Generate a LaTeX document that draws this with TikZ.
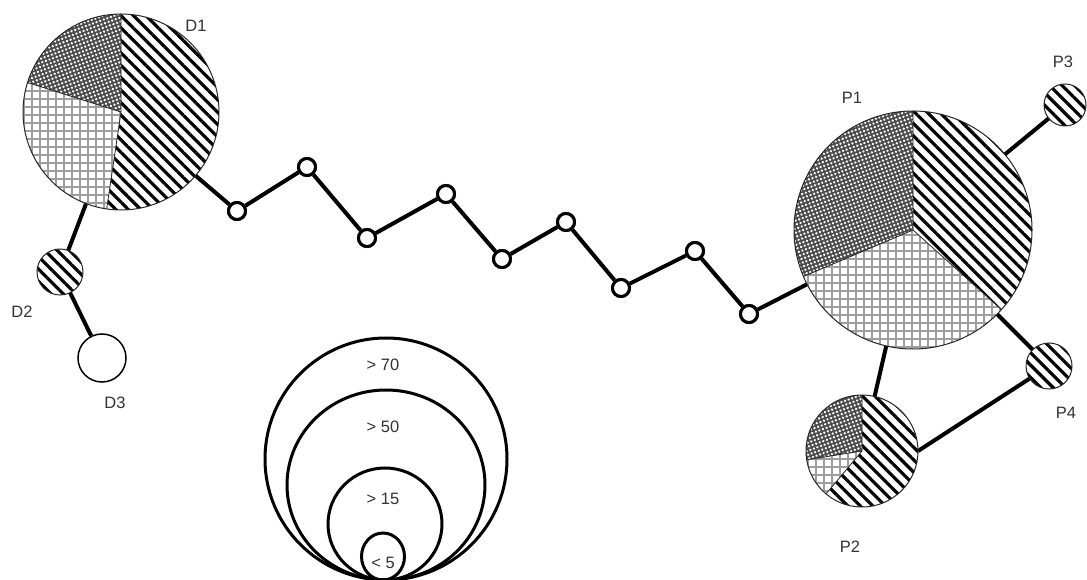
\documentclass[tikz,border=0pt]{standalone}
\usepackage{fontspec}
\setmainfont{Liberation Sans}
\usetikzlibrary{patterns.meta}
\tikzset{
 conn/.style={line width=4pt},
 pienode/.style={circle, inner sep=0pt, outer sep=0pt, draw=none},
 chainnode/.style={circle, draw, line width=3pt, fill=white, minimum size=17pt, inner sep=0pt},
 hatchfill/.style={pattern={Lines[angle=-45,distance=8.8pt,line width=3.2pt]}, pattern color=black},
 gridfill/.style={pattern={Hatch[angle=0,distance=8pt,line width=1.4pt]}, pattern color=black!38},
 dotfill/.style={preaction={fill=black!70}, pattern={Dots[distance=3.8pt,radius=1.3pt,angle=20]}, pattern color=white},
 rim/.style={draw=black!85, line width=1pt},
 lbl/.style={font=\fontsize{16.5}{19}\selectfont, text=black!80},
 legendring/.style={line width=3pt},
}
\newcommand\mysector[5]{\fill[#5] (#1) -- ++(#3:#2) arc[start angle=#3, end angle=#4, radius=#2] -- cycle;}
\begin{document}
\begin{tikzpicture}[x=1pt,y=1pt]
\useasboundingbox (0,0) rectangle (1087,579);
\fill[white] (0,0) rectangle (1087,579);
% pie nodes
\node[pienode, minimum size=196pt] (D1) at (121,467) {};
\node[pienode, minimum size=46pt] (D2) at (60,307) {};
\node[circle, draw, line width=1.5pt, fill=white, minimum size=48pt, inner sep=0pt] (D3) at (102,221) {};
\node[pienode, minimum size=238pt] (P1) at (913,349) {};
\node[pienode, minimum size=112pt] (P2) at (862,128) {};
\node[pienode, minimum size=42pt] (P3) at (1065,474) {};
\node[pienode, minimum size=46pt] (P4) at (1049,213) {};
% chain nodes
\node[chainnode] (c1) at (237,368) {};
\node[chainnode] (c2) at (307,412) {};
\node[chainnode] (c3) at (367,341) {};
\node[chainnode] (c4) at (446,385) {};
\node[chainnode] (c5) at (502,320) {};
\node[chainnode] (c6) at (566,357) {};
\node[chainnode] (c7) at (621,291) {};
\node[chainnode] (c8) at (695,328) {};
\node[chainnode] (c9) at (749,265) {};
% connectors
\draw[conn] (D1) -- (c1);
\draw[conn] (c1) -- (c2);
\draw[conn] (c2) -- (c3);
\draw[conn] (c3) -- (c4);
\draw[conn] (c4) -- (c5);
\draw[conn] (c5) -- (c6);
\draw[conn] (c6) -- (c7);
\draw[conn] (c7) -- (c8);
\draw[conn] (c8) -- (c9);
\draw[conn] (c9) -- (P1);
\draw[conn] (D1) -- (D2);
\draw[conn] (D2) -- (D3);
\draw[conn] (P1) -- (P3);
\draw[conn] (P1) -- (P4);
\draw[conn] (P1) -- (P2);
\draw[conn] (P2.east) -- (P4);
% redraw chain nodes on top
\foreach \c in {c1,c2,c3,c4,c5,c6,c7,c8,c9}{\draw[line width=3pt, fill=white] (\c.center) circle (8.5pt);}
% D1 pie
\mysector{D1.center}{98pt}{90}{-98.4}{hatchfill}
\mysector{D1.center}{98pt}{-98.4}{-197.5}{gridfill}
\mysector{D1.center}{98pt}{162.5}{90}{dotfill}
\draw[black!85, line width=0.8pt] (D1.center) -- ++(90:98pt) (D1.center) -- ++(-98.4:98pt) (D1.center) -- ++(162.5:98pt);
\draw[rim] (D1.center) circle (98pt);
% P1 pie
\mysector{P1.center}{119pt}{90}{-42}{hatchfill}
\mysector{P1.center}{119pt}{-42}{-157}{gridfill}
\mysector{P1.center}{119pt}{203}{90}{dotfill}
\draw[black!85, line width=0.8pt] (P1.center) -- ++(90:119pt) (P1.center) -- ++(-42:119pt) (P1.center) -- ++(203:119pt);
\draw[rim] (P1.center) circle (119pt);
% P2 pie
\mysector{P2.center}{56pt}{90}{-130}{hatchfill}
\mysector{P2.center}{56pt}{-130}{-171}{gridfill}
\mysector{P2.center}{56pt}{189}{90}{dotfill}
\draw[black!85, line width=0.8pt] (P2.center) -- ++(90:56pt) (P2.center) -- ++(-130:56pt) (P2.center) -- ++(189:56pt);
\draw[rim] (P2.center) circle (56pt);
% full hatched small pies
\fill[hatchfill] (D2.center) circle (23pt);
\draw[rim] (D2.center) circle (23pt);
\fill[hatchfill] (P3.center) circle (21pt);
\draw[rim] (P3.center) circle (21pt);
\fill[hatchfill] (P4.center) circle (23pt);
\draw[rim] (P4.center) circle (23pt);
% labels
\node[lbl] (lD1) at (196,553) {D1};
\node[lbl] (lD2) at (22,267) {D2};
\node[lbl] (lD3) at (115,176) {D3};
\node[lbl] (lP1) at (852,481) {P1};
\node[lbl] (lP2) at (850,32) {P2};
\node[lbl] (lP3) at (1063,517) {P3};
\node[lbl] (lP4) at (1066,166) {P4};
% legend
\draw[legendring] (386,120) ellipse [x radius=121pt, y radius=121pt];
\draw[legendring] (386,94) ellipse [x radius=99pt, y radius=95pt];
\draw[legendring] (385,55) ellipse [x radius=57pt, y radius=56pt];
\draw[legendring] (383,22.5) ellipse [x radius=21.5pt, y radius=23.5pt];
\node[lbl] (g70) at (383,214) {> 70};
\node[lbl] (g50) at (383,152) {> 50};
\node[lbl] (g15) at (383,80) {> 15};
\node[lbl] (g5) at (383,16) {< 5};
\end{tikzpicture}
\end{document}
